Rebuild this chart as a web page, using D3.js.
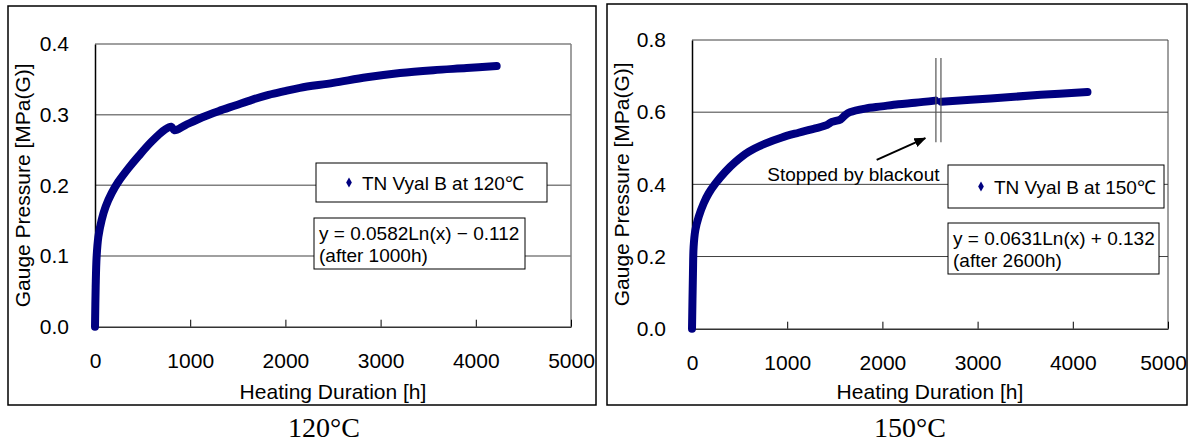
<!DOCTYPE html>
<html>
<head>
<meta charset="utf-8">
<script src="https://cdn.jsdelivr.net/npm/d3@7"></script>
<style>
body { margin: 0; background: #fff; }
svg text { font-family: "Liberation Sans", Arial, sans-serif; fill: #000; }
</style>
</head>
<body>
<svg id="chart" width="1190" height="446"></svg>
<script>
// Data
var hours120 = [0, 7, 17, 35, 70, 112, 175, 245, 350, 455, 595, 736, 800, 835, 946, 1122, 1297, 1473, 1648, 1823, 1980, 2153, 2503, 2854, 3204, 3554, 3904, 4219];
var pressure120 = [0, 0.056, 0.099, 0.127, 0.151, 0.170, 0.189, 0.205, 0.224, 0.241, 0.262, 0.279, 0.283, 0.278, 0.285, 0.296, 0.305, 0.313, 0.321, 0.328, 0.333, 0.338, 0.345, 0.353, 0.359, 0.363, 0.366, 0.369];

var hours150 = [0, 10, 17, 35, 70, 122, 175, 245, 350, 455, 594, 769, 944, 1119, 1294, 1420, 1470, 1560, 1610, 1660, 1818, 1993, 2168, 2343, 2555];
var pressure150 = [0, 0.153, 0.227, 0.273, 0.310, 0.347, 0.375, 0.402, 0.435, 0.462, 0.490, 0.513, 0.530, 0.543, 0.555, 0.565, 0.573, 0.580, 0.592, 0.600, 0.610, 0.616, 0.622, 0.626, 0.632];
var hours150After = [2620, 3137, 3663, 4154];
var pressure150After = [0.629, 0.638, 0.648, 0.656];

var xTicks = [0, 1000, 2000, 3000, 4000, 5000];
var yTicks120 = [0, 0.1, 0.2, 0.3, 0.4];
var yTicks150 = [0, 0.2, 0.4, 0.6, 0.8];

// blackout annotation (hours, MPa)
var blackoutHours = [2562, 2615];
var blackoutRange = [0.517, 0.75];
var arrowFrom = [1940, 0.468];
var arrowTo = [2450, 0.528];
var notePoint = [2600, 0.41];

var navy = "#000080";
var svg = d3.select("#chart");

svg.append("defs").append("marker")
    .attr("id", "arrowhead")
    .attr("viewBox", "0 0 10 10")
    .attr("refX", 9)
    .attr("refY", 5)
    .attr("markerWidth", 6)
    .attr("markerHeight", 6)
    .attr("orient", "auto")
    .append("path")
    .attr("d", "M0,1 L10,5 L0,9 Z")
    .attr("fill", "#000");

function draw_Panel(p)
{
    var g = svg.append("g");

    // outer frame
    g.append("rect")
        .attr("x", p.box[0]).attr("y", p.box[1])
        .attr("width", p.box[2]).attr("height", p.box[3])
        .attr("fill", "#fff")
        .attr("stroke", "#000")
        .attr("stroke-width", 1.5);

    var x = d3.scaleLinear().domain([0, 5000]).range([p.plot[0], p.plot[0] + p.plot[2]]);
    var y = d3.scaleLinear().domain([0, p.yMax]).range([p.plot[1] + p.plot[3], p.plot[1]]);

    // gridlines
    g.selectAll(".grid")
        .data(p.yTicks.slice(1))
        .enter().append("line")
        .attr("x1", x(0)).attr("x2", x(5000))
        .attr("y1", function(d) { return y(d); })
        .attr("y2", function(d) { return y(d); })
        .attr("stroke", p.gridColor)
        .attr("stroke-width", p.gridWidth);

    // right border of plot area
    g.append("line")
        .attr("x1", x(5000)).attr("x2", x(5000))
        .attr("y1", y(p.yMax)).attr("y2", y(0))
        .attr("stroke", p.gridColor)
        .attr("stroke-width", p.gridWidth);

    // x axis, ticks pointing inward
    var xAxis = d3.axisBottom(x).tickValues(xTicks).tickSizeInner(-7).tickSizeOuter(0).tickFormat(d3.format("d"));
    var xg = g.append("g").attr("transform", "translate(0," + y(0) + ")").call(xAxis);
    xg.select(".domain").attr("stroke", "#333").attr("stroke-width", 1.5);
    xg.selectAll(".tick line").attr("stroke", "#000");
    xg.selectAll(".tick text")
        .attr("y", 41).attr("dy", null)
        .attr("dx", function(d) { return d === 5000 ? p.lastTickShift : 0; })
        .style("font-size", "21px")
        .style("font-family", "Liberation Sans, Arial, sans-serif");

    // y axis
    var yAxis = d3.axisLeft(y).tickValues(p.yTicks).tickSize(0).tickFormat(d3.format(".1f"));
    var yg = g.append("g").attr("transform", "translate(" + x(0) + ",0)").call(yAxis);
    yg.select(".domain").attr("stroke", "#000").attr("stroke-width", 1.5);
    yg.selectAll(".tick text")
        .attr("x", -26)
        .style("font-size", "21px")
        .style("font-family", "Liberation Sans, Arial, sans-serif");

    // axis titles
    g.append("text")
        .attr("x", (x(0) + x(5000)) / 2)
        .attr("y", 399)
        .attr("text-anchor", "middle")
        .style("font-size", "21px")
        .text("Heating Duration [h]");

    g.append("text")
        .attr("transform", "translate(" + p.yTitleX + "," + (y(0) + y(p.yMax)) / 2 + ") rotate(-90)")
        .attr("text-anchor", "middle")
        .style("font-size", "21px")
        .text("Gauge Pressure [MPa(G)]");

    // caption under the frame
    g.append("text")
        .attr("x", p.captionX)
        .attr("y", 437)
        .attr("text-anchor", "middle")
        .style("font-family", "Liberation Serif, Times New Roman, serif")
        .style("font-size", "28px")
        .text(p.caption);

    // pressure curves
    var line = d3.line()
        .x(function(d) { return x(d[0]); })
        .y(function(d) { return y(d[1]); })
        .curve(d3.curveCatmullRom.alpha(0.5));

    p.series.forEach(function(s)
    {
        var pts = s[0].map(function(h, i) { return [h, s[1][i]]; });
        g.append("path")
            .datum(pts)
            .attr("d", line)
            .attr("fill", "none")
            .attr("stroke", navy)
            .attr("stroke-width", 8)
            .attr("stroke-linecap", "round")
            .attr("stroke-linejoin", "round");
    });

    // legend box
    var lg = p.legend;
    g.append("rect")
        .attr("x", lg[0]).attr("y", lg[1]).attr("width", lg[2]).attr("height", lg[3])
        .attr("fill", "#fff").attr("stroke", "#000").attr("stroke-width", 1);
    g.append("path")
        .attr("d", d3.symbol(d3.symbolDiamond, 28))
        .attr("transform", "translate(" + (lg[0] + 33) + "," + (lg[1] + lg[3] / 2) + ")")
        .attr("fill", navy);
    g.append("text")
        .attr("x", lg[0] + 46)
        .attr("y", lg[1] + lg[3] / 2 + 7)
        .style("font-size", "19px")
        .text(p.legendText);

    // fitted equation box
    var eq = p.equation;
    g.append("rect")
        .attr("x", eq[0]).attr("y", eq[1]).attr("width", eq[2]).attr("height", eq[3])
        .attr("fill", "#fff").attr("stroke", "#000").attr("stroke-width", 1);
    g.append("text")
        .attr("x", eq[0] + 5)
        .attr("y", eq[1] + 22)
        .style("font-size", "19px")
        .text(p.equationText[0]);
    g.append("text")
        .attr("x", eq[0] + 5)
        .attr("y", eq[1] + 44)
        .style("font-size", "19px")
        .text(p.equationText[1]);

    return { g: g, x: x, y: y };
}

var left = draw_Panel({
    box: [8, 6, 588, 399],
    plot: [95, 44, 476, 282.7],
    yMax: 0.4,
    yTicks: yTicks120,
    gridColor: "#808080",
    gridWidth: 1.5,
    yTitleX: 30,
    lastTickShift: 0,
    caption: "120°C",
    captionX: 324,
    series: [[hours120, pressure120]],
    legend: [316, 163, 231, 39],
    legendText: "TN Vyal B at 120℃",
    equation: [314, 218, 211, 51],
    equationText: ["y = 0.0582Ln(x) − 0.112", "(after 1000h)"]
});

var right = draw_Panel({
    box: [607, 4, 580, 401],
    plot: [692, 40, 476, 288.7],
    yMax: 0.8,
    yTicks: yTicks150,
    gridColor: "#404040",
    gridWidth: 1,
    yTitleX: 629,
    lastTickShift: -5,
    caption: "150°C",
    captionX: 910,
    series: [[hours150, pressure150], [hours150After, pressure150After]],
    legend: [948, 165, 216, 43],
    legendText: "TN Vyal B at 150℃",
    equation: [948, 223, 211, 51],
    equationText: ["y = 0.0631Ln(x) + 0.132", "(after 2600h)"]
});

// Blackout annotation on the 150 C chart
var rx = right.x, ry = right.y;
right.g.selectAll(".blackout")
    .data(blackoutHours)
    .enter().append("line")
    .attr("x1", function(d) { return rx(d); })
    .attr("x2", function(d) { return rx(d); })
    .attr("y1", ry(blackoutRange[1]))
    .attr("y2", ry(blackoutRange[0]))
    .attr("stroke", "#555")
    .attr("stroke-width", 1.2);

right.g.append("line")
    .attr("x1", rx(arrowFrom[0])).attr("y1", ry(arrowFrom[1]))
    .attr("x2", rx(arrowTo[0])).attr("y2", ry(arrowTo[1]))
    .attr("stroke", "#000")
    .attr("stroke-width", 2)
    .attr("marker-end", "url(#arrowhead)");

right.g.append("text")
    .attr("x", rx(notePoint[0]))
    .attr("y", ry(notePoint[1]))
    .attr("text-anchor", "end")
    .style("font-size", "19px")
    .text("Stopped by blackout");
</script>
</body>
</html>
